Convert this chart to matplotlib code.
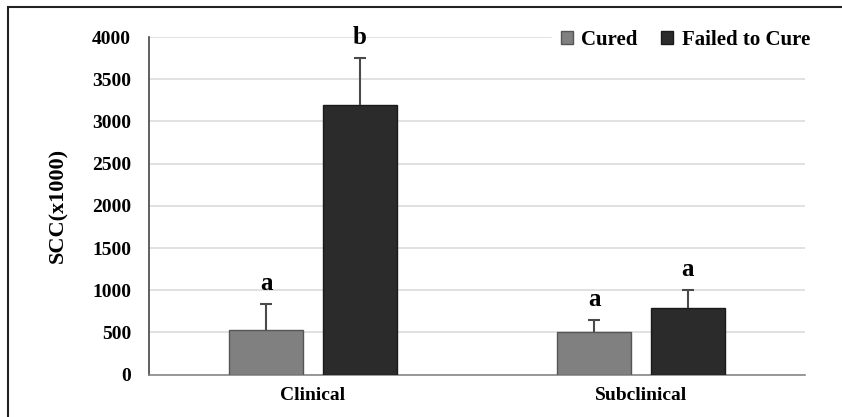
import numpy as np
import matplotlib.pyplot as plt
from matplotlib.patches import Rectangle

plt.rcParams['font.family'] = ['Liberation Serif', 'DejaVu Serif']
plt.rcParams['font.weight'] = 'bold'

# data
categories = ['Clinical', 'Subclinical']
cured = [525, 505]
cured_err = [308, 142]
failed = [3194, 785]
failed_err = [557, 217]
cured_letters = ['a', 'a']
failed_letters = ['b', 'a']
yticks = [0, 500, 1000, 1500, 2000, 2500, 3000, 3500, 4000]

fig = plt.figure(figsize=(8.42, 4.17), dpi=100)
ax = fig.add_axes([149 / 842, 1 - 374.6 / 417, 656 / 842, 337.6 / 417])

x = np.arange(len(categories))
w = 0.226
off = 0.143
ax.bar(x - off, cured, w, color='#808080', edgecolor='#555555', linewidth=1,
       label='Cured', zorder=3)
ax.bar(x + off, failed, w, color='#2b2b2b', edgecolor='#1a1a1a', linewidth=1,
       label='Failed to Cure', zorder=3)

# upper-only error bars: stem + cap at top
for xs, vals, errs in [(x - off, cured, cured_err), (x + off, failed, failed_err)]:
    tops = np.array(vals) + np.array(errs)
    ax.vlines(xs, vals, tops, color='#4a4a4a', linewidth=1.5, zorder=4)
    ax.plot(xs, tops, linestyle='none', marker='_', markersize=8,
            markeredgewidth=1.5, color='#4a4a4a', zorder=4)

for i in range(len(categories)):
    ax.text(x[i] - off, cured[i] + cured_err[i] + 110, cured_letters[i],
            ha='center', va='bottom', fontsize=18, fontweight='bold')
    ax.text(x[i] + off, failed[i] + failed_err[i] + 110, failed_letters[i],
            ha='center', va='bottom', fontsize=18, fontweight='bold')

ax.set_xlim(-0.5, 1.5)
ax.set_ylim(0, 4000)
ax.set_yticks(yticks)
ax.set_xticks(x)
ax.set_xticklabels(categories, fontsize=14, fontweight='bold')
ax.tick_params(axis='y', length=0, labelsize=14, pad=13)
ax.tick_params(axis='x', length=0, labelsize=14, pad=9)
for lab in ax.get_yticklabels():
    lab.set_fontweight('bold')
ax.yaxis.grid(True, color='#dcdcdc', linewidth=1.2, zorder=0)
ax.set_axisbelow(True)
for s in ['top', 'right']:
    ax.spines[s].set_visible(False)
ax.spines['left'].set_color('#444444')
ax.spines['bottom'].set_color('#888888')
ax.spines['left'].set_linewidth(1.2)
ax.spines['bottom'].set_linewidth(1.2)
ax.set_ylabel('SCC(x1000)', fontsize=16, fontweight='bold', labelpad=17)

leg = ax.legend(loc='upper right', bbox_to_anchor=(1.02, 1.045), ncol=2,
                frameon=True, fontsize=15, handlelength=0.6, handleheight=0.6,
                handletextpad=0.4, columnspacing=1.1, borderaxespad=0)
leg.get_frame().set_edgecolor('white')
leg.get_frame().set_facecolor('white')
leg.get_frame().set_alpha(1)

fig.patches.append(Rectangle((8 / 842, -0.1), 1.2, 1 - 7 / 417 + 0.1,
                             transform=fig.transFigure, fill=False,
                             edgecolor='#222222', linewidth=1.5))

fig.savefig('out.png', dpi=100)
